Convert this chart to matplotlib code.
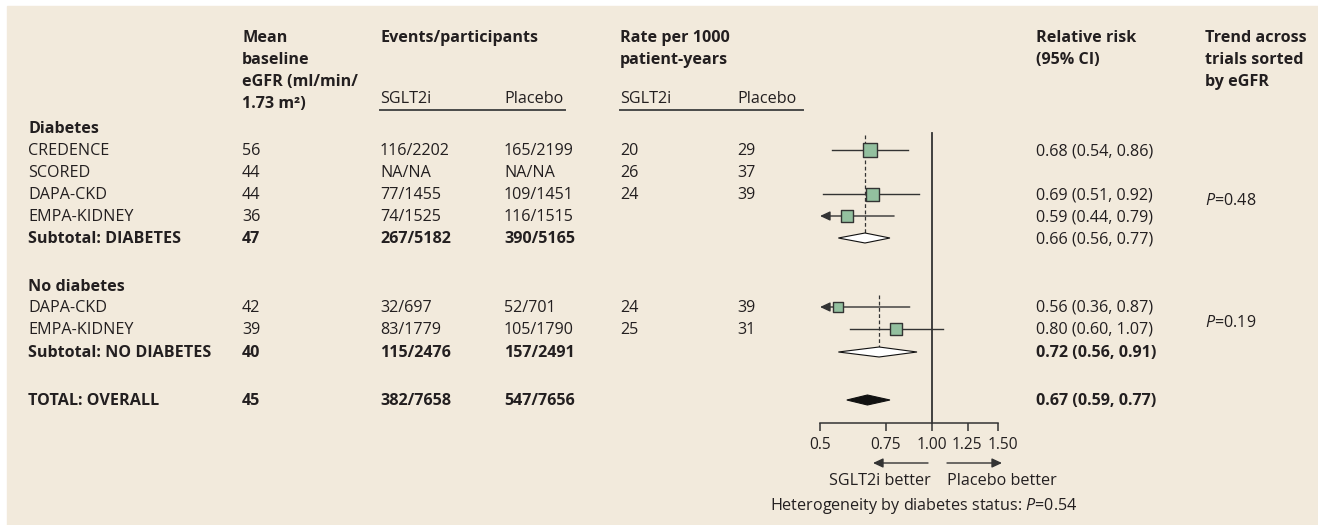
import matplotlib.pyplot as plt
import matplotlib.transforms as mtrans
from matplotlib.patches import Rectangle

plt.rcParams['font.family'] = ['Open Sans', 'DejaVu Sans']
plt.rcParams['mathtext.fontset'] = 'custom'
plt.rcParams['mathtext.rm'] = 'Open Sans'
plt.rcParams['mathtext.it'] = 'Open Sans:italic'

# table data
row_labels = ['Diabetes', 'CREDENCE', 'SCORED', 'DAPA-CKD', 'EMPA-KIDNEY', 'Subtotal: DIABETES',
              'No diabetes', 'DAPA-CKD', 'EMPA-KIDNEY', 'Subtotal: NO DIABETES', 'TOTAL: OVERALL']
row_kind = ['group', 'trial', 'trial', 'trial', 'trial', 'sub',
            'group', 'trial', 'trial', 'sub', 'total']
egfr = ['', '56', '44', '44', '36', '47', '', '42', '39', '40', '45']
events_sglt2i = ['', '116/2202', 'NA/NA', '77/1455', '74/1525', '267/5182',
                 '', '32/697', '83/1779', '115/2476', '382/7658']
events_placebo = ['', '165/2199', 'NA/NA', '109/1451', '116/1515', '390/5165',
                  '', '52/701', '105/1790', '157/2491', '547/7656']
rate_sglt2i = ['', '20', '26', '24', '', '', '', '24', '25', '', '']
rate_placebo = ['', '29', '37', '39', '', '', '', '39', '31', '', '']
rr = [None, 0.68, None, 0.69, 0.59, 0.66, None, 0.56, 0.80, 0.72, 0.67]
rr_lo = [None, 0.54, None, 0.51, 0.44, 0.56, None, 0.36, 0.60, 0.56, 0.59]
rr_hi = [None, 0.86, None, 0.92, 0.79, 0.77, None, 0.87, 1.07, 0.91, 0.77]
rr_bold = [False, False, False, False, False, False, False, False, False, True, True]
trend_p = ['0.48', '0.19']
heterogeneity_p = '0.54'
x_ticks = [0.5, 0.75, 1.0, 1.25, 1.5]
x_ticklabels = ['0.5', '0.75', '1.00', '1.25', '1.50']

# layout (pixels)
W, H = 1318, 525
row_base = [133, 155, 177, 199, 221, 243, 291, 312, 334, 357, 405]
box_px = [0, 14, 0, 13, 12.5, 0, 0, 9.5, 12, 0, 0]
col_x = {'label': 28, 'egfr': 242, 'ev_s': 380, 'ev_p': 504, 'rt_s': 620,
         'rt_p': 737, 'rr': 1036, 'trend': 1205}

TXT = '#231f20'
LINE = '#333333'
BG = '#f2eadc'
GREEN = '#93c09f'
FS = 11.6

fig = plt.figure(figsize=(W / 100, H / 100), dpi=100)
fig.patch.set_facecolor('white')
ax = fig.add_axes([0, 0, 1, 1])
ax.set_xlim(0, W)
ax.set_ylim(H, 0)
ax.axis('off')
ax.add_patch(Rectangle((7, 6), W - 7, H - 6, color=BG, zorder=0))


def txt(x, y, s, bold=False, **kw):
    ax.text(x, y, s, fontsize=FS, color=TXT, va='baseline',
            fontweight='bold' if bold else 'normal', **kw)


# headers
for i, s in enumerate(['Mean', 'baseline', 'eGFR (ml/min/', '1.73 m²)']):
    txt(col_x['egfr'], 42 + 22 * i, s, bold=True)
txt(col_x['ev_s'], 42, 'Events/participants', bold=True)
txt(col_x['rt_s'], 42, 'Rate per 1000', bold=True)
txt(col_x['rt_s'], 64, 'patient-years', bold=True)
txt(col_x['rr'], 42, 'Relative risk', bold=True)
txt(col_x['rr'], 64, '(95% CI)', bold=True)
for i, s in enumerate(['Trend across', 'trials sorted', 'by eGFR']):
    txt(col_x['trend'], 42 + 22 * i, s, bold=True)
for key, s in [('ev_s', 'SGLT2i'), ('ev_p', 'Placebo'), ('rt_s', 'SGLT2i'), ('rt_p', 'Placebo')]:
    txt(col_x[key], 103, s)
ax.plot([380, 565], [110, 110], color='#4a4a4a', lw=1.4)
ax.plot([620, 803], [110, 110], color='#4a4a4a', lw=1.4)

# table rows
for i, lab in enumerate(row_labels):
    y = row_base[i]
    bold = row_kind[i] in ('group', 'sub', 'total')
    txt(col_x['label'], y, lab, bold=bold)
    vb = row_kind[i] in ('sub', 'total')
    txt(col_x['egfr'], y, egfr[i], bold=vb)
    txt(col_x['ev_s'], y, events_sglt2i[i], bold=vb)
    txt(col_x['ev_p'], y, events_placebo[i], bold=vb)
    txt(col_x['rt_s'], y, rate_sglt2i[i])
    txt(col_x['rt_p'], y, rate_placebo[i])
    if rr[i] is not None:
        txt(col_x['rr'], y, f'{rr[i]:.2f} ({rr_lo[i]:.2f}, {rr_hi[i]:.2f})', bold=rr_bold[i])

txt(col_x['trend'], 205, '$P$=' + trend_p[0])
txt(col_x['trend'], 327, '$P$=' + trend_p[1])

# forest panel
fa = fig.add_axes([820 / W, 0, 178 / W, 1])
fa.set_xscale('log')
fa.set_xlim(0.5, 1.5)
fa.set_ylim(H, 0)
fa.patch.set_alpha(0)
for s in ['top', 'left', 'right']:
    fa.spines[s].set_visible(False)
fa.spines['bottom'].set_position(('data', 423))
fa.spines['bottom'].set_color(LINE)
fa.spines['bottom'].set_linewidth(1.1)
fa.set_yticks([])
fa.minorticks_off()
fa.set_xticks(x_ticks)
fa.set_xticklabels(x_ticklabels)
fa.tick_params(axis='x', direction='out', length=6, width=1.1, color=LINE,
               labelsize=11.2, labelcolor=TXT, pad=4)
# nudge the crowded labels apart a little, as in the original
for lab, dx in zip(fa.get_xticklabels(), [0, 0, 0, -2, 5]):
    lab.set_transform(lab.get_transform() + mtrans.ScaledTranslation(dx / 100, 0, fig.dpi_scale_trans))

fa.plot([1, 1], [133, 423], color=LINE, lw=1.3, clip_on=False)

arrow = dict(arrowstyle='-|>,head_length=0.6,head_width=0.28', color=LINE, lw=1.0,
             shrinkA=0, shrinkB=0, mutation_scale=10)

yc = [b - 5 for b in row_base]
for i, k in enumerate(row_kind):
    if rr[i] is None:
        continue
    y = yc[i]
    if k == 'trial':
        if rr_lo[i] < 0.5:
            fa.annotate('', xy=(0.5, y), xytext=(rr_hi[i], y), arrowprops=arrow)
        else:
            fa.plot([rr_lo[i], rr_hi[i]], [y, y], color=LINE, lw=1.0, clip_on=False)
        fa.scatter([rr[i]], [y], marker='s', s=(box_px[i] * 0.72) ** 2, color=GREEN,
                   edgecolor=LINE, linewidth=1.0, zorder=3, clip_on=False)
    else:
        h = 5
        face = '#111111' if k == 'total' else 'white'
        fa.fill([rr_lo[i], rr[i], rr_hi[i], rr[i]], [y, y - h, y, y + h],
                facecolor=face, edgecolor='#111111', lw=0.8, zorder=3, clip_on=False)

# dashed lines at subgroup estimates
fa.plot([rr[5], rr[5]], [135, yc[5]], color=LINE, lw=0.9, ls=(0, (3, 2)), zorder=1)
fa.plot([rr[9], rr[9]], [295, yc[9]], color=LINE, lw=0.9, ls=(0, (3, 2)), zorder=1)

# favour arrows and labels
ax.annotate('', xy=(873, 463), xytext=(928, 463), arrowprops=arrow)
ax.annotate('', xy=(1002, 463), xytext=(947, 463), arrowprops=arrow)
txt(880, 485, 'SGLT2i better', ha='center')
txt(1002, 485, 'Placebo better', ha='center')
txt(924, 510, 'Heterogeneity by diabetes status: $P$=' + heterogeneity_p, ha='center')

fig.savefig('out.png', dpi=100, facecolor='white')
